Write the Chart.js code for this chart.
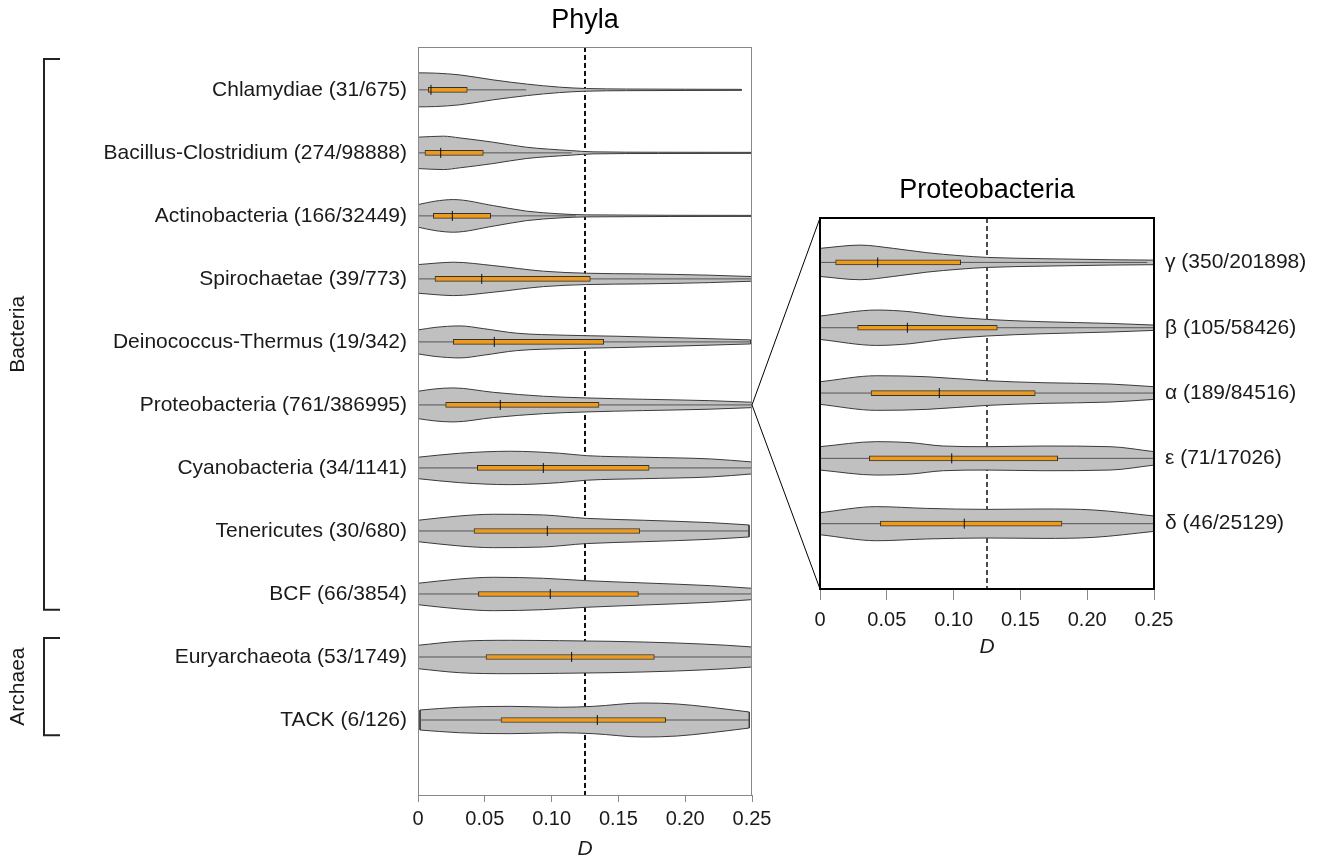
<!DOCTYPE html>
<html><head><meta charset="utf-8">
<script src="https://cdn.jsdelivr.net/npm/chart.js@4.4.1/dist/chart.umd.min.js"></script>
<style>
html,body{margin:0;padding:0;background:#fff;width:1322px;height:860px;overflow:hidden;}
canvas{position:absolute;}
#left{left:0;top:0;width:780px;height:860px;}
#right{left:740px;top:150px;width:582px;height:510px;}
</style></head><body>
<canvas id="left" width="780" height="860"></canvas>
<canvas id="right" width="582" height="510"></canvas>
<script>
// ---------------- DATA ----------------
const xTicks = [0, 0.05, 0.10, 0.15, 0.20, 0.25];
const threshold = 0.125;

const phylaNames = ['Chlamydiae (31/675)', 'Bacillus-Clostridium (274/98888)', 'Actinobacteria (166/32449)',
  'Spirochaetae (39/773)', 'Deinococcus-Thermus (19/342)', 'Proteobacteria (761/386995)',
  'Cyanobacteria (34/1141)', 'Tenericutes (30/680)', 'BCF (66/3854)', 'Euryarchaeota (53/1749)', 'TACK (6/126)'];
const phylaQ1     = [0.0077, 0.0052, 0.0115, 0.0127, 0.0264, 0.0207, 0.0444, 0.0419, 0.0452, 0.0509, 0.0621];
const phylaMedian = [0.0097, 0.0170, 0.0257, 0.0477, 0.0571, 0.0616, 0.0938, 0.0968, 0.0990, 0.1150, 0.1342];
const phylaQ3     = [0.0369, 0.0489, 0.0544, 0.1290, 0.1390, 0.1355, 0.1730, 0.1660, 0.1650, 0.1769, 0.1854];
const phylaWhiskerLo = [0, 0, 0, 0, 0, 0, 0, 0, 0, 0, 0.0015];
const phylaWhiskerHi = [0.081, 0.115, 0.118, 0.25, 0.249, 0.25, 0.25, 0.2478, 0.25, 0.25, 0.248];
// violin outlines: D positions and half-widths (in row units)
const phylaDensityD = [
  [0, 0.013, 0.031, 0.056, 0.082, 0.106, 0.126, 0.156, 0.2, 0.242],
  [0, 0.019, 0.031, 0.056, 0.081, 0.114, 0.131, 0.18, 0.25],
  [0, 0.0127, 0.0264, 0.0564, 0.0813, 0.1063, 0.126, 0.25],
  [0, 0.0127, 0.0264, 0.0564, 0.094, 0.126, 0.168, 0.218, 0.25],
  [0, 0.0127, 0.0314, 0.0489, 0.0739, 0.111, 0.149, 0.199, 0.249],
  [0, 0.0127, 0.0264, 0.0564, 0.094, 0.126, 0.168, 0.218, 0.25],
  [0, 0.031, 0.069, 0.106, 0.126, 0.169, 0.219, 0.25],
  [0, 0.031, 0.0564, 0.094, 0.126, 0.169, 0.219, 0.2478],
  [0, 0.031, 0.0564, 0.094, 0.126, 0.169, 0.219, 0.25],
  [0, 0.031, 0.069, 0.106, 0.1437, 0.1936, 0.2311, 0.25],
  [0.0015, 0.031, 0.069, 0.106, 0.1312, 0.168, 0.194, 0.219, 0.248]
];
const phylaDensityW = [
  [0.27, 0.265, 0.238, 0.159, 0.09, 0.043, 0.021, 0.013, 0.01, 0.008],
  [0.249, 0.265, 0.238, 0.17, 0.09, 0.037, 0.016, 0.01, 0.008],
  [0.179, 0.233, 0.259, 0.163, 0.075, 0.032, 0.016, 0.008],
  [0.227, 0.249, 0.265, 0.211, 0.122, 0.09, 0.079, 0.059, 0.037],
  [0.19, 0.23, 0.254, 0.211, 0.138, 0.106, 0.09, 0.063, 0.032],
  [0.217, 0.254, 0.27, 0.2, 0.138, 0.111, 0.09, 0.068, 0.043],
  [0.17, 0.233, 0.265, 0.233, 0.195, 0.17, 0.143, 0.095],
  [0.17, 0.238, 0.265, 0.254, 0.2, 0.17, 0.132, 0.095],
  [0.17, 0.238, 0.265, 0.249, 0.211, 0.175, 0.132, 0.09],
  [0.186, 0.249, 0.265, 0.259, 0.249, 0.222, 0.186, 0.159],
  [0.159, 0.202, 0.217, 0.202, 0.217, 0.27, 0.254, 0.202, 0.127]
];
const groupNames = ['Bacteria', 'Archaea'];
const groupFirst = [0, 9];
const groupLast  = [8, 10];

const proteoNames = ['\u03b3 (350/201898)', '\u03b2 (105/58426)', '\u03b1 (189/84516)', '\u03b5 (71/17026)', '\u03b4 (46/25129)'];
const proteoQ1     = [0.0117, 0.0282, 0.0382, 0.0369, 0.0452];
const proteoMedian = [0.0432, 0.0654, 0.0893, 0.0986, 0.1080];
const proteoQ3     = [0.1053, 0.1327, 0.1611, 0.1779, 0.1811];
const proteoWhiskerLo = [0, 0, 0, 0, 0];
const proteoWhiskerHi = [0.245, 0.25, 0.25, 0.25, 0.25];
const proteoDensityD = [
  [0, 0.03, 0.0549, 0.0799, 0.1048, 0.1248, 0.167, 0.217, 0.25],
  [0, 0.0424, 0.0674, 0.0923, 0.1248, 0.167, 0.217, 0.25],
  [0, 0.0424, 0.0799, 0.1248, 0.167, 0.217, 0.25],
  [0, 0.0424, 0.0674, 0.0923, 0.1248, 0.167, 0.217, 0.25],
  [0, 0.0424, 0.0799, 0.1248, 0.167, 0.2045, 0.25]
];
const proteoDensityW = [
  [0.215, 0.265, 0.215, 0.149, 0.103, 0.077, 0.057, 0.041, 0.035],
  [0.179, 0.271, 0.245, 0.179, 0.127, 0.092, 0.066, 0.041],
  [0.173, 0.265, 0.25, 0.189, 0.158, 0.138, 0.097],
  [0.179, 0.256, 0.241, 0.189, 0.179, 0.189, 0.179, 0.103],
  [0.169, 0.261, 0.234, 0.219, 0.225, 0.21, 0.118]
];

// ---------------- STYLE ----------------
const FONT = "'Liberation Sans', Arial, Helvetica, sans-serif";
const TXT = '#1a1a1a';
const VIOLIN_FILL = '#c0c0c0';
const VIOLIN_EDGE = '#3a3a3a';
const BOX_FILL = '#ee9a1c';
const X_MIN = 0, X_MAX = 0.25;

Chart.defaults.font.family = FONT;
Chart.defaults.color = TXT;

function buildDatasets(names, dd, ww, q1, med, q3, wlo, whi, yMin, yMax, dashWidth) {
  const ds = [];
  ds.push({type: 'line', data: [{x: threshold, y: yMin}, {x: threshold, y: yMax}], borderColor: '#111',
    borderWidth: dashWidth, borderDash: [5, 3], pointRadius: 0, fill: false, order: 20});
  names.forEach((_, i) => {
    const d = dd[i], w = ww[i];
    ds.push({type: 'line', data: d.map((x, k) => ({x, y: i - w[k]})), borderColor: VIOLIN_EDGE, borderWidth: 1,
      pointRadius: 0, cubicInterpolationMode: 'monotone', fill: false, order: 10});
    ds.push({type: 'line', data: d.map((x, k) => ({x, y: i + w[k]})), borderColor: VIOLIN_EDGE, borderWidth: 1,
      pointRadius: 0, cubicInterpolationMode: 'monotone', fill: '-1', backgroundColor: VIOLIN_FILL, order: 10});
    const first = 0, last = d.length - 1;
    if (d[first] > X_MIN) {
      ds.push({type: 'line', data: [{x: d[first], y: i - w[first]}, {x: d[first], y: i + w[first]}], borderColor: VIOLIN_EDGE,
        borderWidth: 1, pointRadius: 0, fill: false, order: 9});
    }
    if (d[last] < X_MAX) {
      ds.push({type: 'line', data: [{x: d[last], y: i - w[last]}, {x: d[last], y: i + w[last]}], borderColor: VIOLIN_EDGE,
        borderWidth: 1, pointRadius: 0, fill: false, order: 9});
    }
    ds.push({type: 'line', data: [{x: wlo[i], y: i}, {x: whi[i], y: i}], borderColor: '#555', borderWidth: 1,
      pointRadius: 0, fill: false, order: 5});
  });
  ds.push({type: 'bar', indexAxis: 'y', data: q1.map((a, i) => ({x: [a, q3[i]], y: i})), barThickness: 5,
    backgroundColor: BOX_FILL, borderColor: '#333', borderWidth: 1, borderSkipped: false, grouped: false, order: 3});
  ds.push({type: 'line', showLine: false, data: med.map((m, i) => ({x: m, y: i})), pointStyle: 'line', pointRotation: 90,
    pointRadius: 5, pointBorderColor: '#111', pointBorderWidth: 1, pointBackgroundColor: '#111', order: 1});
  return ds;
}

function makeOptions(names, yMin, yMax, side, yWidth, xHeight, padding, tickLen, tickPad) {
  return {
    responsive: false, animation: false, events: [],
    layout: {padding},
    plugins: {legend: {display: false}, tooltip: {enabled: false}, title: {display: false}},
    elements: {point: {radius: 0}},
    scales: {
      x: {type: 'linear', position: 'bottom', min: X_MIN, max: X_MAX, offset: false,
        afterBuildTicks: s => { s.ticks = xTicks.map(v => ({value: v})); },
        ticks: {callback: v => v === 0 ? '0' : v.toFixed(2), font: {size: 20}, color: TXT, padding: tickPad, maxRotation: 0, autoSkip: false},
        grid: {display: true, offset: false, drawOnChartArea: false, drawTicks: true, tickLength: tickLen, color: '#888'},
        border: {display: false},
        afterFit: s => { s.height = xHeight; }
      },
      y: {type: 'linear', position: side, min: yMin, max: yMax, reverse: true, offset: false,
        afterBuildTicks: s => { s.ticks = names.map((_, i) => ({value: i})); },
        ticks: {callback: v => names[v], font: {size: 21}, color: TXT, padding: 11, autoSkip: false},
        grid: {display: false, offset: false, drawTicks: false},
        border: {display: false},
        afterFit: s => { s.width = yWidth; }
      }
    }
  };
}

// ---------------- LEFT PANEL ----------------
const L_YMIN = -0.68, L_YMAX = 11.19;
const leftPlugin = {
  id: 'leftDeco',
  afterDraw(chart) {
    const {ctx, chartArea: a, scales: {y}} = chart;
    ctx.save();
    ctx.strokeStyle = '#888'; ctx.lineWidth = 1;
    ctx.strokeRect(a.left + 0.5, a.top + 0.5, a.right - a.left - 1, a.bottom - a.top);
    ctx.fillStyle = '#000';
    ctx.font = '27px ' + FONT; ctx.textAlign = 'center'; ctx.textBaseline = 'alphabetic';
    ctx.fillText('Phyla', (a.left + a.right) / 2, 28);
    ctx.font = 'italic 21px ' + FONT; ctx.textBaseline = 'middle'; ctx.fillStyle = TXT;
    ctx.fillText('D', (a.left + a.right) / 2, a.bottom + 54.5);
    // group brackets
    const topPad = [0.49, 0.30], botPad = [0.25, 0.24];
    ctx.strokeStyle = '#222'; ctx.lineWidth = 2;
    groupNames.forEach((g, k) => {
      const t = y.getPixelForValue(groupFirst[k] - topPad[k]);
      const b = y.getPixelForValue(groupLast[k] + botPad[k]);
      ctx.beginPath();
      ctx.moveTo(60, t); ctx.lineTo(44, t); ctx.lineTo(44, b); ctx.lineTo(60, b);
      ctx.stroke();
      ctx.save();
      ctx.translate(18, (t + b) / 2); ctx.rotate(-Math.PI / 2);
      ctx.font = '21px ' + FONT; ctx.textAlign = 'center'; ctx.textBaseline = 'middle';
      ctx.fillText(g, 0, 0);
      ctx.restore();
    });
    ctx.restore();
  }
};
const leftChart = new Chart(document.getElementById('left'), {
  type: 'line',
  data: {datasets: buildDatasets(phylaNames, phylaDensityD, phylaDensityW, phylaQ1, phylaMedian, phylaQ3,
    phylaWhiskerLo, phylaWhiskerHi, L_YMIN, L_YMAX, 2)},
  options: makeOptions(phylaNames, L_YMIN, L_YMAX, 'left', 418, 65, {left: 0, right: 28, top: 47, bottom: 0}, 7, 5),
  plugins: [leftPlugin]
});

// ---------------- RIGHT PANEL ----------------
const R_YMIN = -0.68, R_YMAX = 5.0;
const zoomedIndex = phylaNames.indexOf('Proteobacteria (761/386995)');
const rightPlugin = {
  id: 'rightDeco',
  afterDraw(chart) {
    const {ctx, chartArea: a} = chart;
    ctx.save();
    ctx.strokeStyle = '#000'; ctx.lineWidth = 2;
    ctx.strokeRect(a.left, a.top, a.right - a.left, a.bottom - a.top);
    ctx.fillStyle = '#000';
    ctx.font = '27px ' + FONT; ctx.textAlign = 'center'; ctx.textBaseline = 'alphabetic';
    ctx.fillText('Proteobacteria', (a.left + a.right) / 2, a.top - 20);
    ctx.font = 'italic 21px ' + FONT; ctx.textBaseline = 'middle'; ctx.fillStyle = TXT;
    ctx.fillText('D', (a.left + a.right) / 2, a.bottom + 58.5);
    // connector lines from the left panel's Proteobacteria row
    const lr = leftChart.canvas.getBoundingClientRect(), rr = chart.canvas.getBoundingClientRect();
    const px = leftChart.scales.x.getPixelForValue(X_MAX) + lr.left - rr.left;
    const py = leftChart.scales.y.getPixelForValue(zoomedIndex) + lr.top - rr.top;
    ctx.strokeStyle = '#000'; ctx.lineWidth = 1;
    ctx.beginPath();
    ctx.moveTo(a.left, a.top); ctx.lineTo(px, py); ctx.lineTo(a.left, a.bottom);
    ctx.stroke();
    ctx.restore();
  }
};
const rightChart = new Chart(document.getElementById('right'), {
  type: 'line',
  data: {datasets: buildDatasets(proteoNames, proteoDensityD, proteoDensityW, proteoQ1, proteoMedian, proteoQ3,
    proteoWhiskerLo, proteoWhiskerHi, R_YMIN, R_YMAX, 1.5)},
  options: makeOptions(proteoNames, R_YMIN, R_YMAX, 'right', 168, 71, {left: 80, right: 0, top: 68, bottom: 0}, 11, 8),
  plugins: [rightPlugin]
});
</script>
</body></html>
